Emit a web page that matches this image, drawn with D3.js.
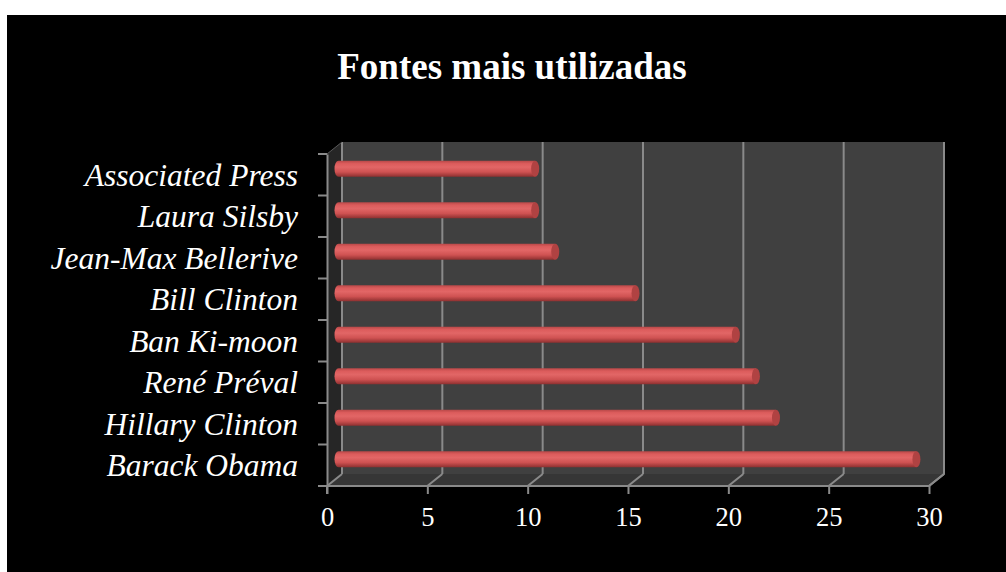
<!DOCTYPE html>
<html>
<head>
<meta charset="utf-8">
<script src="https://cdn.jsdelivr.net/npm/d3@7"></script>
<style>
  html, body { margin: 0; padding: 0; background: #ffffff; }
  svg { display: block; }
</style>
</head>
<body>
<svg id="chart" width="1006" height="572"></svg>
<script>
// Fontes mais citadas (contagem de menções)
const categories = ["Associated Press", "Laura Silsby", "Jean-Max Bellerive", "Bill Clinton",
                    "Ban Ki-moon", "René Préval", "Hillary Clinton", "Barack Obama"];
const values = [10, 10, 11, 15, 20, 21, 22, 29];
const xTicks = [0, 5, 10, 15, 20, 25, 30];
const title = "Fontes mais utilizadas";

const svg = d3.select("#chart");
const W = 1006, H = 572;

// black chart area
svg.append("rect").attr("x", 7).attr("y", 15).attr("width", W - 7).attr("height", H - 15).attr("fill", "#000");

// plot geometry (front face) and depth offset
const x0 = 327, x1 = 929, yTop = 154, yBot = 486;
const depthX = 15, depthY = -12;

const x = d3.scaleLinear().domain([0, 30]).range([x0, x1]);
const y = d3.scaleBand().domain(categories).range([yTop, yBot]).paddingInner(0).paddingOuter(0);

const defs = svg.append("defs");
const grad = defs.append("linearGradient").attr("id", "barGrad")
  .attr("x1", 0).attr("y1", 0).attr("x2", 0).attr("y2", 1);
[[0, "#b84848"], [0.18, "#dc5c5c"], [0.4, "#e26666"], [0.7, "#cf5252"], [1, "#8e3030"]]
  .forEach(([o, c]) => grad.append("stop").attr("offset", o).attr("stop-color", c));

// back wall
svg.append("rect")
  .attr("x", x0 + depthX).attr("y", yTop + depthY)
  .attr("width", x1 - x0).attr("height", yBot - yTop)
  .attr("fill", "#404040");

// left side wall
svg.append("path")
  .attr("d", `M${x0},${yTop} L${x0 + depthX},${yTop + depthY} L${x0 + depthX},${yBot + depthY} L${x0},${yBot} Z`)
  .attr("fill", "#262626");

// floor
svg.append("path")
  .attr("d", `M${x0},${yBot} L${x0 + depthX},${yBot + depthY} L${x1 + depthX},${yBot + depthY} L${x1},${yBot} Z`)
  .attr("fill", "#363636");

const gridColor = "#8a8a8a";

// gridlines on the back wall and floor
const grid = svg.append("g");
xTicks.forEach(t => {
  const gx = x(t) + depthX;
  grid.append("line")
    .attr("x1", gx).attr("x2", gx)
    .attr("y1", yTop + depthY).attr("y2", yBot + depthY)
    .attr("stroke", gridColor).attr("stroke-width", 2);
  grid.append("line")
    .attr("x1", gx).attr("y1", yBot + depthY)
    .attr("x2", x(t)).attr("y2", yBot)
    .attr("stroke", gridColor).attr("stroke-width", 2);
});

// left wall outline
svg.append("path")
  .attr("d", `M${x0},${yTop} L${x0 + depthX},${yTop + depthY}`)
  .attr("stroke", "#5a5a5a").attr("stroke-width", 1).attr("fill", "none");

// bars as cylinders placed at mid depth
const bh = 16;
const bars = svg.append("g").attr("transform", `translate(${depthX / 2},${depthY / 2})`);
categories.forEach((c, i) => {
  const cy = y(c) + y.bandwidth() / 2;
  const xs = x(0), xe = x(values[i]);
  const rx = 4;
  bars.append("path")
    .attr("d", `M${xe},${cy - bh / 2} L${xs + rx},${cy - bh / 2} A${rx},${bh / 2} 0 0 0 ${xs + rx},${cy + bh / 2} L${xe},${cy + bh / 2} Z`)
    .attr("fill", "url(#barGrad)");
  bars.append("ellipse")
    .attr("cx", xe).attr("cy", cy).attr("rx", rx).attr("ry", bh / 2)
    .attr("fill", "#b04242");
});

// vertical (category) axis
const yAxis = d3.axisLeft(y).tickSize(0).tickFormat("");
const gY = svg.append("g").attr("transform", `translate(${x0},0)`).call(yAxis);
gY.select(".domain").attr("stroke", gridColor).attr("stroke-width", 2);
// tick marks at category boundaries
const bounds = categories.map(c => y(c)).concat([yBot]);
svg.append("g").selectAll("line").data(bounds).join("line")
  .attr("x1", x0 - 9).attr("x2", x0)
  .attr("y1", d => d).attr("y2", d => d)
  .attr("stroke", gridColor).attr("stroke-width", 2);

// category labels
svg.append("g").selectAll("text").data(categories).join("text")
  .attr("x", 298)
  .attr("y", c => y(c) + y.bandwidth() / 2 + 11)
  .attr("text-anchor", "end")
  .attr("fill", "#fff")
  .attr("font-family", "'Liberation Serif', 'Times New Roman', serif")
  .attr("font-style", "italic")
  .attr("font-size", 31.5)
  .text(c => c);

// horizontal (value) axis
const xAxis = d3.axisBottom(x).tickValues(xTicks).tickSize(8).tickPadding(13);
const gX = svg.append("g").attr("transform", `translate(0,${yBot})`).call(xAxis);
gX.select(".domain").attr("stroke", gridColor).attr("stroke-width", 2).attr("d", `M${x0 - 9},0H${x1}`);
gX.selectAll(".tick line").attr("stroke", gridColor).attr("stroke-width", 2);
gX.selectAll(".tick text")
  .attr("fill", "#fff")
  .attr("font-family", "'Liberation Serif', 'Times New Roman', serif")
  .attr("font-size", 26.5);
// left axis continues to the floor corner
svg.append("line").attr("x1", x0).attr("x2", x0).attr("y1", yBot).attr("y2", yBot + 8)
  .attr("stroke", gridColor).attr("stroke-width", 2);

// right edge of the back wall and floor
svg.append("path")
  .attr("d", `M${x1 + depthX},${yTop + depthY} L${x1 + depthX},${yBot + depthY} L${x1},${yBot}`)
  .attr("stroke", gridColor).attr("stroke-width", 2).attr("fill", "none");

// title
svg.append("text")
  .attr("x", 512).attr("y", 79)
  .attr("text-anchor", "middle")
  .attr("fill", "#fff")
  .attr("font-family", "'Liberation Serif', 'Times New Roman', serif")
  .attr("font-weight", "bold")
  .attr("font-size", 37)
  .text(title);
</script>
</body>
</html>
